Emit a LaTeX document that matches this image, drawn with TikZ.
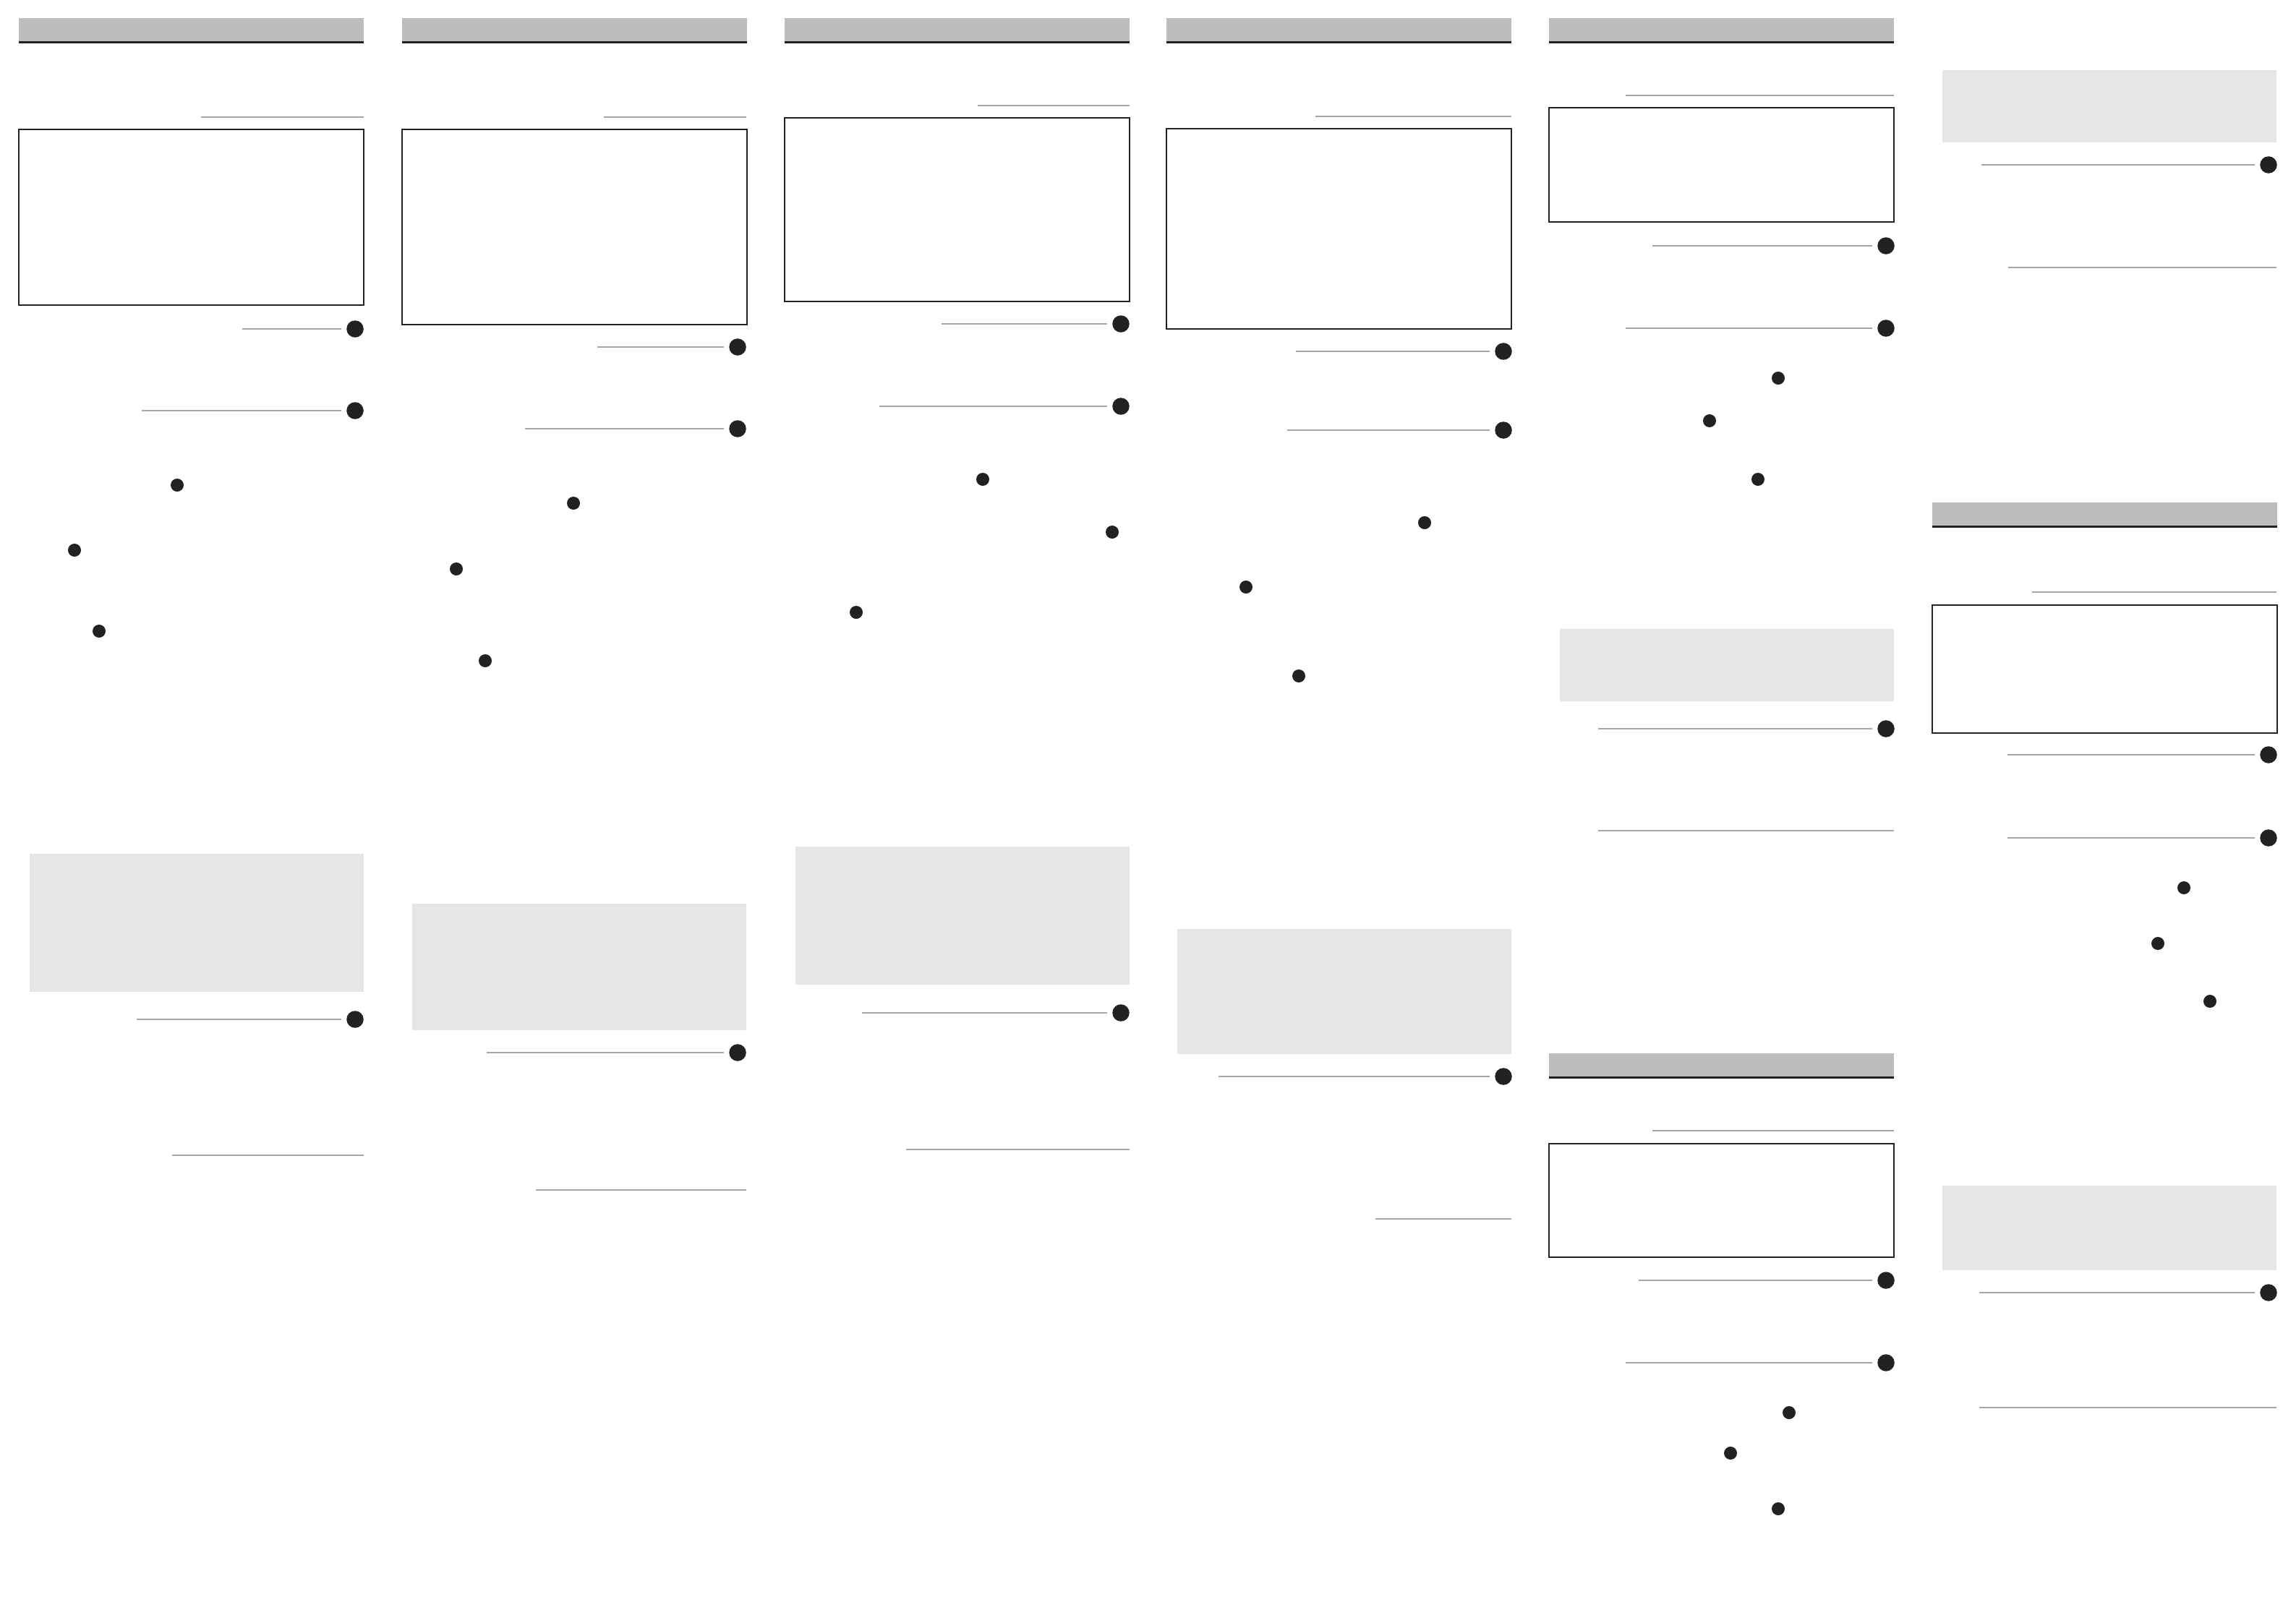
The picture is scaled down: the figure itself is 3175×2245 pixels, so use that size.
\documentclass[tikz,border=0pt]{standalone}
\usepackage{tikz}
\definecolor{barc}{HTML}{BDBDBD}
\definecolor{panelc}{HTML}{E6E6E6}
\definecolor{rulec}{HTML}{A6A6A6}
\definecolor{dotc}{HTML}{222222}

\begin{document}
\begin{tikzpicture}[x=0.01cm,y=-0.01cm,
	headbar/.style={anchor=north west,fill=barc,inner sep=0pt,outer sep=0pt,minimum width=4.77cm,minimum height=0.335cm},
	barline/.style={draw=dotc,line width=0.85pt},
	frame/.style={anchor=north west,draw=dotc,line width=0.6pt,inner sep=0pt,outer sep=0pt,minimum width=4.77cm},
	panel/.style={anchor=north east,fill=panelc,inner sep=0pt,outer sep=0pt,minimum width=4.62cm},
	bigdot/.style={shape=circle,fill=dotc,inner sep=0pt,minimum size=0.235cm},
	smalldot/.style={shape=circle,fill=dotc,inner sep=0pt,minimum size=0.18cm},
	rule/.style={draw=rulec,line width=0.5pt},
	lead/.style={rule,shorten >=0.07cm}]

	\useasboundingbox (0,0) rectangle (3175,2245);

	\node[headbar] (ah) at (26,25) {};
	\coordinate (ar1) at (278,162);
	\coordinate (ar2) at (503,162);
	\node[frame,minimum height=2.43cm] (af) at (26,179) {};
	\coordinate (as1) at (335,455);
	\node[bigdot] (ab1) at (491,455) {};
	\coordinate (as2) at (196,568);
	\node[bigdot] (ab2) at (491,568) {};
	\node[smalldot] (ad1) at (245,671) {};
	\node[smalldot] (ad2) at (103,761) {};
	\node[smalldot] (ad3) at (137,873) {};
	\node[panel,minimum height=1.91cm] (ap) at (503,1181) {};
	\coordinate (as3) at (189,1410);
	\node[bigdot] (ab3) at (491,1410) {};
	\coordinate (aq1) at (238,1598);
	\coordinate (aq2) at (503,1598);

	\draw[barline] (ah.south west) -- (ah.south east);
	\path[rule] (ar1) edge (ar2);
	\path[lead] (as1) edge (ab1);
	\path[lead] (as2) edge (ab2);
	\path[lead] (as3) edge (ab3);
	\path[rule] (aq1) edge (aq2);

	\node[headbar] (bh) at (556,25) {};
	\coordinate (br1) at (835,162);
	\coordinate (br2) at (1032,162);
	\node[frame,minimum height=2.70cm] (bf) at (556,179) {};
	\coordinate (bs1) at (826,480);
	\node[bigdot] (bb1) at (1020,480) {};
	\coordinate (bs2) at (726,593);
	\node[bigdot] (bb2) at (1020,593) {};
	\node[smalldot] (bd1) at (793,696) {};
	\node[smalldot] (bd2) at (631,787) {};
	\node[smalldot] (bd3) at (671,914) {};
	\node[panel,minimum height=1.75cm] (bp) at (1032,1250) {};
	\coordinate (bs3) at (673,1456);
	\node[bigdot] (bb3) at (1020,1456) {};
	\coordinate (bq1) at (741,1646);
	\coordinate (bq2) at (1032,1646);

	\draw[barline] (bh.south west) -- (bh.south east);
	\path[rule] (br1) edge (br2);
	\path[lead] (bs1) edge (bb1);
	\path[lead] (bs2) edge (bb2);
	\path[lead] (bs3) edge (bb3);
	\path[rule] (bq1) edge (bq2);

	\node[headbar] (ch) at (1085,25) {};
	\coordinate (cr1) at (1352,146);
	\coordinate (cr2) at (1562,146);
	\node[frame,minimum height=2.54cm] (cf) at (1085,163) {};
	\coordinate (cs1) at (1302,448);
	\node[bigdot] (cb1) at (1550,448) {};
	\coordinate (cs2) at (1216,562);
	\node[bigdot] (cb2) at (1550,562) {};
	\node[smalldot] (cd1) at (1359,663) {};
	\node[smalldot] (cd2) at (1538,736) {};
	\node[smalldot] (cd3) at (1184,847) {};
	\node[panel,minimum height=1.91cm] (cp) at (1562,1171) {};
	\coordinate (cs3) at (1192,1401);
	\node[bigdot] (cb3) at (1550,1401) {};
	\coordinate (cq1) at (1253,1590);
	\coordinate (cq2) at (1562,1590);

	\draw[barline] (ch.south west) -- (ch.south east);
	\path[rule] (cr1) edge (cr2);
	\path[lead] (cs1) edge (cb1);
	\path[lead] (cs2) edge (cb2);
	\path[lead] (cs3) edge (cb3);
	\path[rule] (cq1) edge (cq2);

	\node[headbar] (dh) at (1613,25) {};
	\coordinate (dr1) at (1819,161);
	\coordinate (dr2) at (2090,161);
	\node[frame,minimum height=2.77cm] (df) at (1613,178) {};
	\coordinate (ds1) at (1792,486);
	\node[bigdot] (db1) at (2079,486) {};
	\coordinate (ds2) at (1780,595);
	\node[bigdot] (db2) at (2079,595) {};
	\node[smalldot] (dd1) at (1970,723) {};
	\node[smalldot] (dd2) at (1723,812) {};
	\node[smalldot] (dd3) at (1796,935) {};
	\node[panel,minimum height=1.73cm] (dp) at (2090,1285) {};
	\coordinate (ds3) at (1685,1489);
	\node[bigdot] (db3) at (2079,1489) {};
	\coordinate (dq1) at (1902,1686);
	\coordinate (dq2) at (2090,1686);

	\draw[barline] (dh.south west) -- (dh.south east);
	\path[rule] (dr1) edge (dr2);
	\path[lead] (ds1) edge (db1);
	\path[lead] (ds2) edge (db2);
	\path[lead] (ds3) edge (db3);
	\path[rule] (dq1) edge (dq2);

	\node[headbar] (eh) at (2142,25) {};
	\coordinate (er1) at (2248,132);
	\coordinate (er2) at (2619,132);
	\node[frame,minimum height=1.58cm] (ef) at (2142,149) {};
	\coordinate (es1) at (2285,340);
	\node[bigdot] (eb1) at (2608,340) {};
	\coordinate (es2) at (2248,454);
	\node[bigdot] (eb2) at (2608,454) {};
	\node[smalldot] (ed1) at (2459,523) {};
	\node[smalldot] (ed2) at (2364,582) {};
	\node[smalldot] (ed3) at (2431,663) {};
	\node[panel,minimum height=1.0cm] (ep) at (2619,870) {};
	\coordinate (es3) at (2210,1008);
	\node[bigdot] (eb3) at (2608,1008) {};
	\coordinate (eq1) at (2210,1149);
	\coordinate (eq2) at (2619,1149);

	\draw[barline] (eh.south west) -- (eh.south east);
	\path[rule] (er1) edge (er2);
	\path[lead] (es1) edge (eb1);
	\path[lead] (es2) edge (eb2);
	\path[lead] (es3) edge (eb3);
	\path[rule] (eq1) edge (eq2);

	\node[headbar] (gh) at (2142,1457) {};
	\coordinate (gr1) at (2285,1564);
	\coordinate (gr2) at (2619,1564);
	\node[frame,minimum height=1.57cm] (gf) at (2142,1582) {};
	\coordinate (gs1) at (2266,1771);
	\node[bigdot] (gb1) at (2608,1771) {};
	\coordinate (gs2) at (2248,1885);
	\node[bigdot] (gb2) at (2608,1885) {};
	\node[smalldot] (gd1) at (2474,1954) {};
	\node[smalldot] (gd2) at (2393,2010) {};
	\node[smalldot] (gd3) at (2459,2087) {};

	\draw[barline] (gh.south west) -- (gh.south east);
	\path[rule] (gr1) edge (gr2);
	\path[lead] (gs1) edge (gb1);
	\path[lead] (gs2) edge (gb2);

	\node[panel,minimum height=1.0cm] (fp) at (3148,97) {};
	\coordinate (fs1) at (2740,228);
	\node[bigdot] (fb1) at (3137,228) {};
	\coordinate (fq1) at (2777,370);
	\coordinate (fq2) at (3148,370);

	\path[lead] (fs1) edge (fb1);
	\path[rule] (fq1) edge (fq2);

	\node[headbar] (hh) at (2672,695) {};
	\coordinate (hr1) at (2810,819);
	\coordinate (hr2) at (3148,819);
	\node[frame,minimum height=1.77cm] (hf) at (2672,837) {};
	\coordinate (hs1) at (2776,1044);
	\node[bigdot] (hb1) at (3137,1044) {};
	\coordinate (hs2) at (2776,1159);
	\node[bigdot] (hb2) at (3137,1159) {};
	\node[smalldot] (hd1) at (3020,1228) {};
	\node[smalldot] (hd2) at (2984,1305) {};
	\node[smalldot] (hd3) at (3056,1385) {};
	\node[panel,minimum height=1.17cm] (hp) at (3148,1640) {};
	\coordinate (hs3) at (2737,1788);
	\node[bigdot] (hb3) at (3137,1788) {};
	\coordinate (hq1) at (2737,1947);
	\coordinate (hq2) at (3148,1947);

	\draw[barline] (hh.south west) -- (hh.south east);
	\path[rule] (hr1) edge (hr2);
	\path[lead] (hs1) edge (hb1);
	\path[lead] (hs2) edge (hb2);
	\path[lead] (hs3) edge (hb3);
	\path[rule] (hq1) edge (hq2);
\end{tikzpicture}
\end{document}
